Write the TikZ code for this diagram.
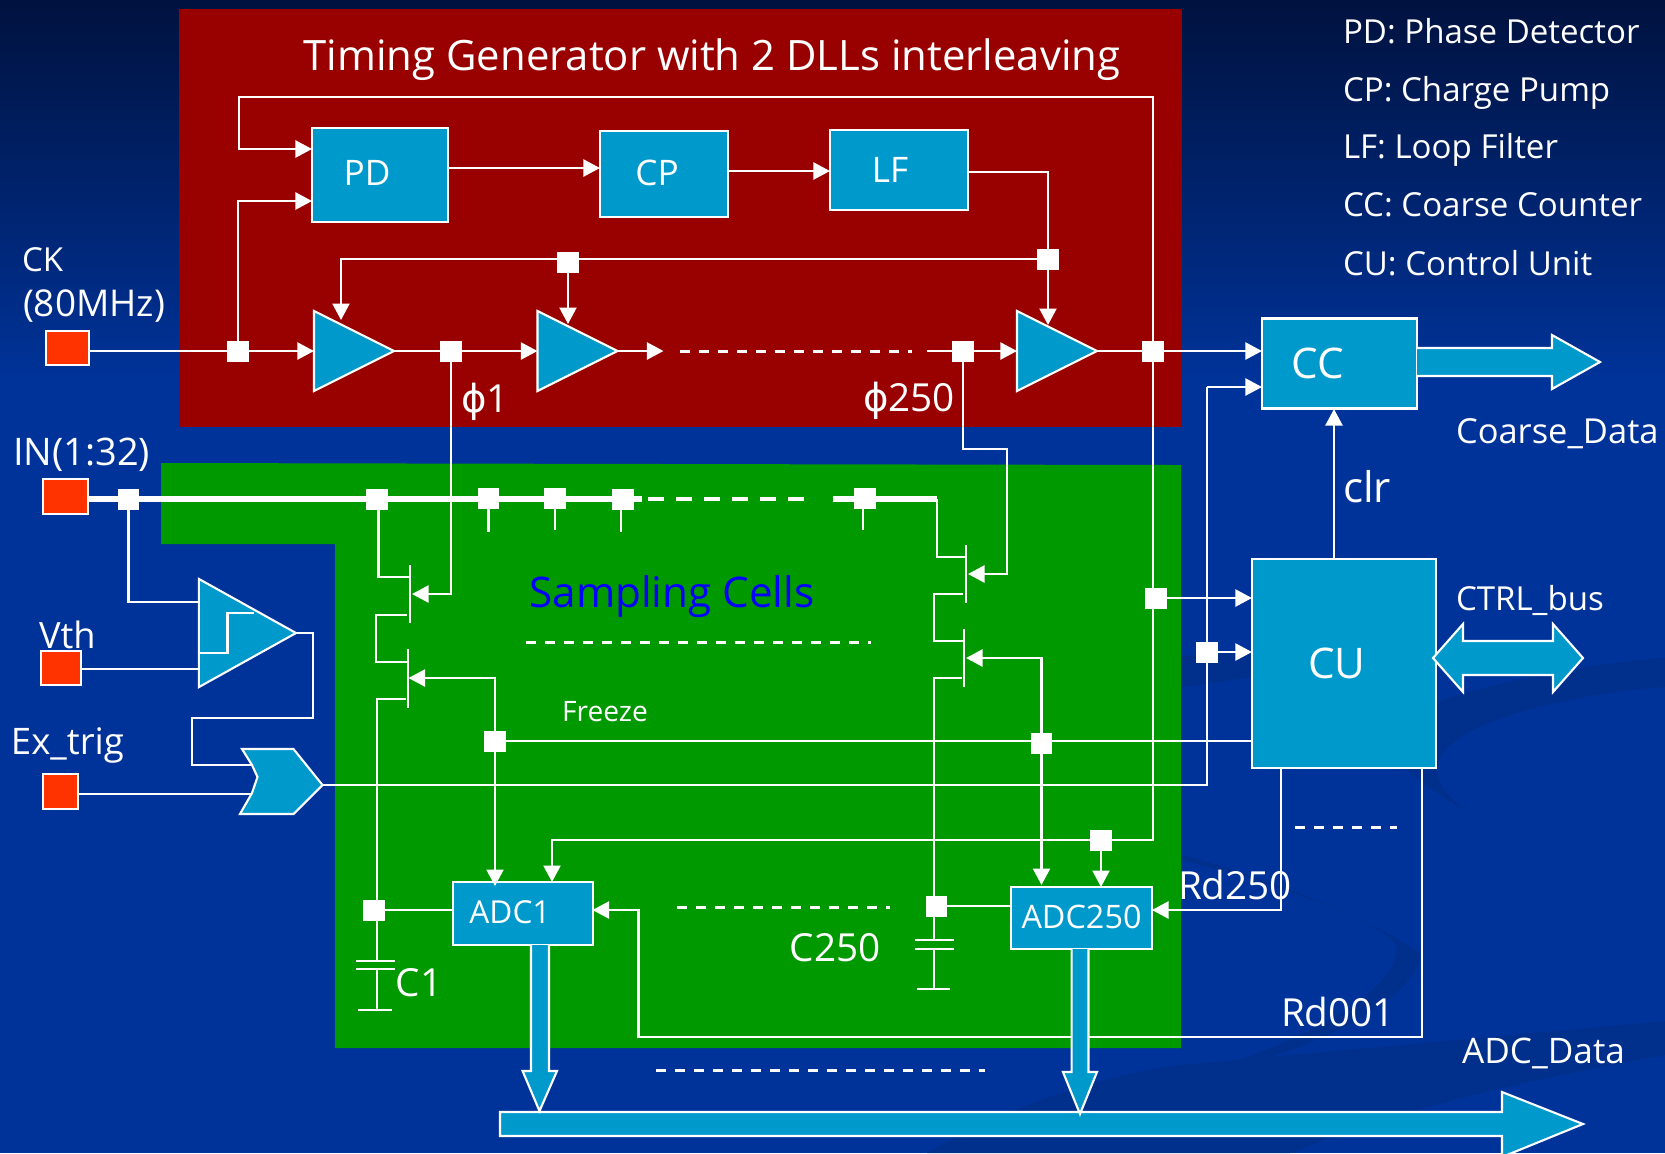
\documentclass[tikz,border=0pt]{standalone}
\usepackage{fontspec}
\setmainfont{Open Sans}
\newfontfamily\phifont{DejaVu Sans}
\usetikzlibrary{arrows.meta,shapes.geometric}
\definecolor{bgtop}{HTML}{00123F}
\definecolor{bgblue}{HTML}{003399}
\definecolor{bgdark}{HTML}{002F8C}
\definecolor{tgred}{HTML}{990000}
\definecolor{scgreen}{HTML}{009900}
\definecolor{boxblue}{HTML}{0099CC}
\definecolor{padred}{HTML}{FF3300}

\begin{document}
\begin{tikzpicture}[x=0.01cm, y=-0.01cm,
  every node/.style={text=white, inner sep=0pt, outer sep=0pt, align=center},
  wire/.style={draw=white, line width=0.65pt},
  arr/.style={wire, -{Triangle[length=0.165cm,width=0.17cm]}},
  dashline/.style={draw=white, line width=0.85pt, dash pattern=on 0.1cm off 0.09cm},
  bus/.style={draw=white, line width=1.7pt},
  blk/.style={rectangle, draw=white, fill=boxblue, line width=0.7pt},
  bk/.style={draw=white, fill=boxblue, line width=0.6pt},
  pad/.style={rectangle, draw=white, fill=padred, line width=0.6pt},
  jn/.style={rectangle, fill=white, minimum width=0.21cm, minimum height=0.21cm},
  buf/.style={isosceles triangle, isosceles triangle stretches, draw=white, fill=boxblue, line width=0.6pt, anchor=apex, minimum width=0.8cm, minimum height=0.8cm},
  lab/.style={font=\fontsize{9.4}{11}\selectfont, anchor=west},
  num/.style={font=\fontsize{11}{13}\selectfont, anchor=west},
  big/.style={font=\fontsize{12}{14}\selectfont}]

\useasboundingbox (0,0) rectangle (1665,1153);

% Background
\fill[bgblue] (0,0) rectangle (1665,1153);
\shade[top color=bgtop, bottom color=bgblue] (0,0) rectangle (1665,380);
\fill[bgdark] (1182,656) -- (1252,650) -- (1437,702) .. controls (1500,680) and (1600,662) .. (1665,658) -- (1665,687) .. controls (1560,695) and (1437,725) .. (1437,770) .. controls (1437,785) and (1450,800) .. (1470,812) .. controls (1400,780) and (1350,700) .. (1252,677) -- (1182,687) -- cycle;
\fill[bgdark] (1182,855) .. controls (1280,880) and (1380,925) .. (1420,953) .. controls (1420,1000) and (1300,1060) .. (1182,1078) .. controls (1280,1050) and (1397,1000) .. (1397,946) .. controls (1380,920) and (1280,885) .. (1182,860) -- cycle;
\fill[bgdark] (927,1153) .. controls (1000,1110) and (1100,1075) .. (1180,1065) -- (1665,1021) -- (1665,1055) .. controls (1500,1085) and (1400,1110) .. (1290,1153) -- cycle;

% Timing generator and sampling cell areas
\fill[tgred] (179,9) rectangle (1182,427);
\fill[scgreen] (161,463) -- (1181,465) -- (1181,1048) -- (335,1048) -- (335,544) -- (161,544) -- cycle;

% Blocks
\node (pd) [blk, minimum width=1.36cm, minimum height=0.94cm] at (380,175) {\fontsize{10}{12}\selectfont\raisebox{0.04cm}{PD}\hspace{0.26cm}};
\node (cp) [blk, minimum width=1.28cm, minimum height=0.86cm] at (664,174) {\fontsize{10}{12}\selectfont\raisebox{0.02cm}{CP}\hspace{0.14cm}};
\node (lf) [blk, minimum width=1.38cm, minimum height=0.80cm] at (899,170) {\fontsize{10}{12}\selectfont LF\hspace{0.18cm}};
\node (cc) [blk, minimum width=1.55cm, minimum height=0.90cm] at (1339.5,363.5) {\fontsize{12}{14}\selectfont CC\hspace{0.44cm}};
\node (cu) [blk, minimum width=1.84cm, minimum height=2.09cm] at (1344,663.5) {\fontsize{12}{14}\selectfont CU\hspace{0.14cm}};
\node (adc1) [blk, minimum width=1.395cm, minimum height=0.63cm] at (523,913.5) {\fontsize{9}{11}\selectfont\raisebox{0.03cm}{ADC1}\hspace{0.26cm}};
\node (adc250) [blk, minimum width=1.41cm, minimum height=0.62cm] at (1081.5,918) {\fontsize{9.2}{11}\selectfont\raisebox{0.02cm}{ADC250}};

\node (buf1) [buf] at (394,351) {};
\node (buf2) [buf] at (617.5,351) {};
\node (buf3) [buf] at (1097,351) {};
\node (cmp) [buf, minimum width=1.08cm, minimum height=0.97cm] at (296,633) {};

\node (ckpad) [pad, minimum width=0.43cm, minimum height=0.34cm] at (67.5,348) {};
\node (inpad) [pad, minimum width=0.45cm, minimum height=0.35cm] at (65.5,496.5) {};
\node (vthpad) [pad, minimum width=0.40cm, minimum height=0.34cm] at (61,668) {};
\node (expad) [pad, minimum width=0.35cm, minimum height=0.35cm] at (60.5,791.5) {};

% Junctions
\node (ckj) [jn] at (238,351) {};
\node (phi1j) [jn] at (451,351) {};
\node (phi250j) [jn] at (963,351) {};
\node (dllj) [jn] at (1153,351) {};
\node (midj) [jn] at (568,262) {};
\node (ctrlj) [jn] at (1048,259) {};
\node (inj) [jn] at (128.5,499) {};
\node (s1j) [jn] at (377,499) {};
\node (s2j) [jn] at (488.6,498) {};
\node (s3j) [jn] at (555,498) {};
\node (s4j) [jn] at (623,499) {};
\node (s5j) [jn] at (865,498) {};
\node (frzj) [jn] at (495,741) {};
\node (frzr) [jn] at (1041.5,743) {};
\node (clkj) [jn] at (1101,840) {};
\node (c1j) [jn] at (374,910) {};
\node (c250j) [jn] at (936.5,906) {};
\node (cuj) [jn] at (1156,598) {};
\node (cuj2) [jn] at (1207,652) {};

% Free ends and corners
\coordinate (fbleft) at (239,97);
\coordinate (pdup) at (312,149);
\coordinate (pddown) at (312,201);
\coordinate (pdout) at (448,168);
\coordinate (cpout) at (728,171);
\coordinate (lfout) at (968,172);
\coordinate (chainend) at (663.5,351);
\coordinate (chainin) at (927,351);
\coordinate (buf1top) at (341,320);
\coordinate (buf2top) at (568,324);
\coordinate (buf3top) at (1048,325);
\coordinate (clkleft) at (552,840);
\coordinate (adc1clk) at (552,882);
\coordinate (adc250clk) at (1101,887);
\coordinate (tr1g) at (412,594);
\coordinate (tr2g) at (968,574);
\coordinate (tr3g) at (408.5,678);
\coordinate (tr4g) at (966,658);
\coordinate (p250turn) at (1007,449);
\coordinate (adc1frz) at (495,886);
\coordinate (adc250frz) at (1041.5,885);
\coordinate (cmpin1) at (199,602);
\coordinate (cmpin2) at (199,669);
\coordinate (cmpturn) at (313,718);
\coordinate (orleft) at (192,765);
\coordinate (orin1) at (253,765);
\coordinate (orin2) at (252,794);
\coordinate (orout) at (322.5,785);
\coordinate (ccturn) at (1207,387);
\coordinate (rd250top) at (1281,768);
\coordinate (adc250in) at (1152,910);
\coordinate (rd1top) at (1422,768);
\coordinate (rd1turn) at (638.5,1037);
\coordinate (adc1in) at (592.5,910);
\coordinate (clrb) at (1334,559);
\coordinate (clrt) at (1334,409);

% Timing generator wires
\draw[wire] (ckpad.east |- ckj) -- (ckj);
\draw[arr] (ckj) -- (buf1.lower side);
\draw[arr] (ckj) |- (pddown);
\draw[arr] (dllj) |- (fbleft) |- (pdup);
\draw[arr] (pdout) -- (cp.west |- pdout);
\draw[arr] (cpout) -- (lf.west |- cpout);
\draw[wire] (lfout) -| (ctrlj);
\draw[arr] (ctrlj) -- (buf3top);
\draw[arr] (ctrlj) -| (buf1top);
\draw[arr] (midj) -- (buf2top);
\draw[wire] (buf1.apex) -- (phi1j);
\draw[arr] (phi1j) -- (buf2.lower side);
\draw[arr] (buf2.apex) -- (chainend);
\draw[dashline] (680,351) -- (912,351);
\draw[arr] (chainin) -- (buf3.lower side);
\draw[wire] (buf3.apex) -- (dllj);
\draw[arr] (dllj) -- (cc.west |- dllj);

% Input bus and sampling switches
\draw[bus] (inpad.east |- inj) -- (642,499);
\draw[draw=white, line width=1.15pt, dash pattern=on 0.16cm off 0.12cm] (648,499) -- (804,499);
\coordinate (s250) at (937,499);
\draw[bus] (833,499) -- (s250);
\draw[wire] (s1j) ++(1.5,0) -- ++(0,78) -- (409,577);
\draw[wire] (s2j) -- ++(0,34);
\draw[wire] (s3j) -- ++(0,32);
\draw[wire] (s4j) -- ++(-2,0) -- ++(0,33);
\draw[wire] (s5j) -- ++(-2,0) -- ++(0,32);
\draw[wire] (s250) |- (965,557);
\draw[arr] (phi1j) |- (tr1g);
\draw[arr] (phi250j) |- (p250turn) |- (tr2g);

% Left switches
\draw[wire] (410,565) -- (410,623);
\draw[wire] (407,615) -| (376,662) -- (408,662);
\draw[wire] (408,649) -- (408,708);
\draw[wire] (406,699) -| (377,910);
% Right switches
\draw[wire] (966,545) -- (966,603);
\draw[wire] (963,594) -| (934,641) -- (964,641);
\draw[wire] (964,629) -- (964,687);
\draw[wire] (962,678) -| (934,906);

% Freeze and clock to the ADCs
\draw[wire] (frzj) -- (cu.west |- frzj);
\draw[arr] (frzj) |- (tr3g);
\draw[arr] (frzr) |- (tr4g);
\draw[arr] (frzj) -- (adc1frz);
\draw[arr] (frzr) -- (adc250frz);
\draw[arr] (dllj) |- (clkleft) -- (adc1clk);
\draw[arr] (clkj) -- (adc250clk);
\draw[arr] (cuj) -- (cu.west |- cuj);
\draw[arr] (cuj2) -- (cu.west |- cuj2);

% Capacitors
\draw[wire] (c1j) -- (adc1.west |- c1j);
\draw[wire] (377,910) -- (377,961);
\draw[wire] (356,961) -- (395,961);
\draw[wire] (356,969) -- (395,969);
\draw[wire] (377,969) -- (377,1010);
\draw[wire] (358,1010) -- (392,1010);
\draw[wire] (c250j) -- (adc250.west |- c250j);
\draw[wire] (934,906) -- (934,940);
\draw[wire] (915,940) -- (954,940);
\draw[wire] (915,949) -- (954,949);
\draw[wire] (934,949) -- (934,989);
\draw[wire] (916.5,989) -- (950,989);

% Trigger logic
\draw[wire] (inj) |- (cmpin1);
\draw[wire] (vthpad.east |- cmpin2) -- (cmpin2);
\draw[wire] (199,653) -- (227.5,653) -- (227.5,613) -- (253.5,613);
\draw[wire] (cmp.apex) -| (cmpturn) -| (orleft) -- (orin1);
\draw[wire] (expad.east |- orin2) -- (orin2);
\draw[bk] (242,749) -- (293.5,749) -- (orout) -- (293.5,814) -- (240,814) -- (252,793) -- (257.5,777) -- (252,765) -- cycle;
\draw[wire] (orout) -| (ccturn);
\draw[arr] (ccturn) -- (cc.west |- ccturn);

% Control unit
\draw[arr] (clrb) -- (clrt);
\draw[arr] (rd250top) |- (adc250in);
\draw[arr] (rd1top) |- (rd1turn) |- (adc1in);
\draw[dashline] (1295,827) -- (1397,827);
\draw[dashline] (526,642) -- (871,642);
\draw[dashline] (677,907) -- (890,907);
\draw[dashline] (656,1070) -- (985,1070);

% Block arrows
\draw[bk] (1417,348) -- (1552,348) -- (1552,335) -- (1600,362) -- (1552,389) -- (1552,376) -- (1417,376);
\draw[bk] (1433,658) -- (1463,624) -- (1463,641) -- (1553,641) -- (1553,624) -- (1583,658) -- (1553,692) -- (1553,675) -- (1463,675) -- (1463,692) -- cycle;
\draw[bk] (500,1112) -- (1502,1112) -- (1502,1092) -- (1583,1124) -- (1502,1157) -- (1502,1136) -- (500,1136) -- cycle;
\draw[bk] (531,945) -- (531,1071) -- (522.6,1071) -- (539.5,1111) -- (557,1071) -- (549,1071) -- (549,945);
\draw[bk] (1071.6,949) -- (1071.6,1072) -- (1063,1072) -- (1080,1114) -- (1097,1072) -- (1088.5,1072) -- (1088.5,949);

% Labels
\node (title) [font=\fontsize{11.9}{15}\selectfont] at (712,60) {Timing Generator with 2 DLLs interleaving};
\node (lpd) [lab] at (1343,31) {PD: Phase Detector};
\node (lcp) [lab] at (1343,93) {CP: Charge Pump};
\node (llf) [lab] at (1343,150) {LF: Loop Filter};
\node (lcc) [lab] at (1343,205) {CC: Coarse Counter};
\node (lcu) [lab] at (1343,263) {CU: Control Unit};
\node (ck) [lab] at (22,260) {CK};
\node (mhz) [lab, font=\fontsize{10.5}{12}\selectfont] at (23,306) {(80MHz)};
\node (in) [lab, font=\fontsize{10.8}{12}\selectfont] at (13,455) {IN(1:32)};
\node (vth) [lab, font=\fontsize{10.3}{12}\selectfont] at (39,635) {Vth};
\node (extrig) [lab, font=\fontsize{10.4}{12}\selectfont] at (11,745) {Ex\_trig};
\node (phi1) [num] at (461,402) {{\phifont ϕ}1};
\node (phi250) [num] at (863,401) {{\phifont ϕ}250};
\node (sampling) [big, text=blue] at (672,597) {Sampling Cells};
\node (freeze) [lab, font=\fontsize{8}{9}\selectfont, anchor=center] at (605,712) {Freeze};
\node (clr) [big, anchor=west] at (1343,487) {clr};
\node (coarse) [lab, font=\fontsize{9.8}{12}\selectfont] at (1456,434) {Coarse\_Data};
\node (ctrl) [lab] at (1456,600) {CTRL\_bus};
\node (rd250) [num] at (1178,885) {Rd250};
\node (rd001) [num] at (1281,1012) {Rd001};
\node (adcdata) [lab, font=\fontsize{10}{12}\selectfont] at (1462,1053) {ADC\_Data};
\node (c1) [num] at (396,983) {C1};
\node (c250) [num, anchor=center] at (835,948) {C250};

\end{tikzpicture}
\end{document}
